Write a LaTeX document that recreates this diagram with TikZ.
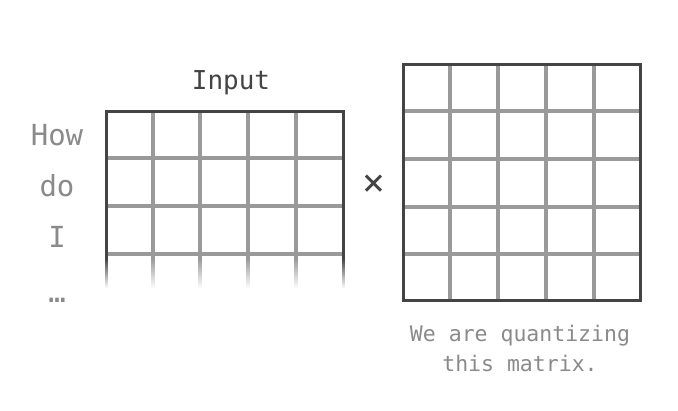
\documentclass[tikz,border=0pt]{standalone}
\usepackage{fontspec}
\setmonofont{DejaVu Sans Mono}
\definecolor{gridgray}{HTML}{9A9A9A}
\definecolor{framegray}{HTML}{444444}
\definecolor{wordgray}{HTML}{8A8A8A}

\tikzset{
	gridline/.style={draw=gridgray, line width=4pt},
	frameline/.style={draw=framegray, line width=3pt},
	word/.style={text=wordgray, font=\ttfamily\fontsize{29}{32}\selectfont},
	title/.style={text=framegray, font=\ttfamily\fontsize{26}{30}\selectfont},
	caption/.style={text=wordgray, font=\ttfamily\fontsize{21.5}{30}\selectfont, align=center},
}

\begin{document}
\begin{tikzpicture}[x=1pt, y=-1pt]
	\useasboundingbox (0,0) rectangle (678,411);

	% input rows
	\node[title] (In) at (231,83) {Input};
	\node[word] (W1) at (57,135) {How};
	\node[word] (W2) at (57,186) {do};
	\node[word] (W3) at (57,237) {I};
	\node[word] (W4) at (57,300) {…};

	% left matrix, open at the bottom
	\foreach \x in {153,200,248,296}
		\draw[gridline] (\x,112) -- (\x,258);
	\foreach \y in {158,206,254}
		\draw[gridline] (106,\y) -- (343,\y);
	\foreach \k in {0,...,14} {
		\pgfmathsetmacro{\op}{1-\k/15}
		\foreach \x in {153,200,248,296}
			\draw[gridline, opacity=\op] (\x,258+2*\k) -- (\x,260+2*\k);
		\draw[frameline, opacity=\op] (106,258+2*\k) -- (106,260+2*\k);
		\draw[frameline, opacity=\op] (343,258+2*\k) -- (343,260+2*\k);
	}
	\draw[frameline] (106,258) -- (106,112) -- (343,112) -- (343,258);

	\node[text=framegray, font=\ttfamily\fontsize{38}{40}\selectfont] (Times) at (374,185) {×};

	% weight matrix
	\foreach \x in {450,498,546,594}
		\draw[gridline] (\x,65) -- (\x,301);
	\foreach \y in {111,159,207,254}
		\draw[gridline] (403,\y) -- (640,\y);
	\draw[frameline] (403,65) rectangle (640,301);

	\node[caption] (Cap) at (520,348) {We are quantizing\\this matrix.};
\end{tikzpicture}
\end{document}
